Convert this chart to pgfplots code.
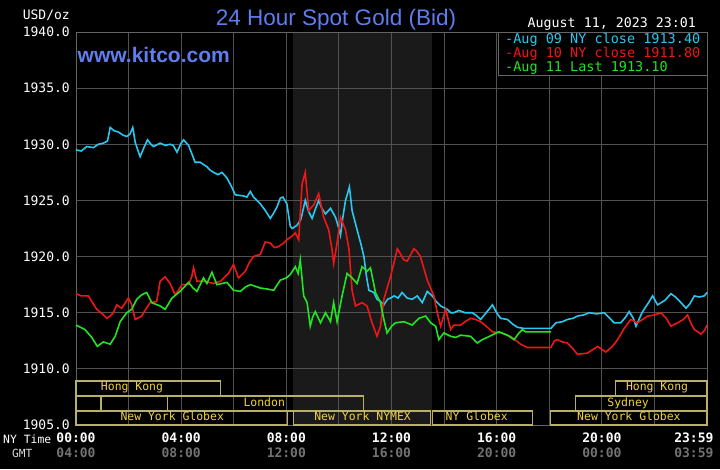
\documentclass[border=0pt]{standalone}
\usepackage{fontspec}
\setmainfont{Liberation Sans}
\newfontfamily\mono{DejaVu Sans Mono}
\usepackage{pgfplots}
\usepackage{pgfplotstable}
\pgfplotsset{compat=1.18}
\definecolor{cyanc}{RGB}{40,200,240}
\definecolor{redc}{RGB}{238,22,22}
\definecolor{greenc}{RGB}{34,228,34}
\definecolor{titlec}{RGB}{95,125,238}
\definecolor{gridc}{RGB}{82,82,82}
\definecolor{framec}{RGB}{100,100,100}
\definecolor{nymexc}{RGB}{26,26,26}
\definecolor{gmtc}{RGB}{115,115,115}
\definecolor{sessline}{RGB}{185,175,105}
\definecolor{sesstext}{RGB}{240,210,60}

\pgfdeclarelayer{pagebg}
\pgfplotsset{
  layers/withbg/.define layer set={pagebg,axis background,axis grid,axis ticks,axis lines,axis tick labels,pre main,main,axis descriptions,axis foreground}{},
}

\pgfplotstableread{
h p
0 1929.5
0.2 1929.4
0.41 1929.8
0.66 1929.7
0.85 1930.0
1.04 1930.1
1.2 1930.3
1.3 1931.5
1.45 1931.2
1.61 1931.1
1.8 1930.8
1.93 1930.7
2.05 1930.9
2.16 1931.5
2.25 1930.2
2.35 1929.5
2.44 1928.9
2.6 1929.8
2.72 1930.4
2.85 1930.0
2.95 1929.8
3.2 1930.1
3.4 1929.9
3.58 1930.0
3.7 1929.9
3.84 1929.3
4.0 1930.1
4.09 1930.4
4.28 1929.9
4.4 1929.2
4.53 1928.4
4.72 1928.4
4.98 1928.0
5.1 1927.7
5.23 1927.5
5.4 1927.3
5.55 1927.5
5.74 1927.0
5.9 1926.3
6.06 1925.5
6.37 1925.4
6.5 1925.3
6.63 1925.8
6.75 1925.3
7.01 1924.7
7.2 1924.1
7.39 1923.4
7.5 1923.8
7.64 1924.4
7.77 1925.2
7.87 1925.3
8.02 1924.7
8.15 1922.7
8.22 1922.5
8.41 1922.8
8.55 1923.3
8.72 1925.0
8.85 1924.0
8.98 1923.4
9.1 1924.2
9.23 1925.0
9.35 1924.3
9.49 1923.8
9.68 1924.3
9.87 1923.5
10.0 1922.5
10.06 1921.9
10.15 1923.5
10.25 1925.0
10.4 1926.2
10.5 1924.1
10.69 1922.4
10.85 1921.0
10.95 1920.0
11.05 1918.2
11.14 1917.0
11.33 1916.8
11.45 1916.2
11.58 1916.0
11.71 1915.7
11.85 1916.2
11.96 1916.3
12.1 1916.5
12.25 1916.3
12.4 1916.8
12.6 1916.3
12.79 1916.2
12.98 1916.5
13.17 1915.9
13.36 1916.9
13.55 1916.5
13.7 1916.0
13.87 1915.6
14.12 1915.3
14.25 1915.0
14.37 1915.0
14.56 1915.2
14.8 1915.0
15.07 1915.0
15.2 1914.8
15.39 1914.4
15.6 1915.0
15.84 1915.7
16.0 1915.0
16.15 1914.5
16.41 1914.4
16.6 1914.0
16.79 1913.7
17.04 1913.6
18.06 1913.6
18.25 1914.1
18.5 1914.2
18.69 1914.4
18.9 1914.5
19.07 1914.7
19.3 1914.8
19.52 1915.0
19.8 1914.9
20.09 1915.0
20.3 1914.5
20.47 1914.1
20.72 1914.1
20.9 1914.6
21.04 1915.1
21.2 1914.5
21.3 1913.8
21.45 1914.6
21.55 1915.1
21.75 1915.8
21.93 1916.5
22.12 1915.7
22.4 1916.1
22.63 1916.7
22.8 1916.4
23.01 1915.9
23.2 1915.4
23.35 1915.8
23.52 1916.5
23.7 1916.4
23.9 1916.5
24.0 1916.8
}\augnine

\pgfplotstableread{
h p
0 1916.7
0.2 1916.5
0.47 1916.5
0.6 1916.0
0.79 1915.3
1.0 1914.9
1.17 1914.5
1.3 1914.7
1.42 1915.0
1.55 1915.7
1.74 1915.4
1.99 1916.3
2.12 1915.7
2.25 1914.4
2.5 1914.7
2.65 1915.3
2.82 1915.9
3.07 1916.0
3.2 1917.8
3.39 1918.2
3.58 1917.6
3.77 1916.6
3.9 1917.0
4.03 1917.5
4.28 1917.5
4.4 1918.2
4.47 1919.0
4.6 1917.8
4.85 1917.8
5.05 1917.7
5.23 1917.6
5.49 1917.8
5.8 1918.5
5.99 1919.3
6.18 1918.1
6.44 1918.7
6.6 1919.5
6.75 1920.0
7.01 1920.2
7.2 1921.3
7.39 1921.2
7.55 1920.8
7.71 1920.9
7.9 1921.2
8.02 1921.5
8.2 1921.8
8.34 1922.1
8.47 1921.5
8.6 1926.5
8.72 1927.5
8.85 1924.1
9.04 1924.6
9.23 1925.6
9.42 1923.5
9.61 1922.4
9.74 1920.6
9.8 1919.4
9.93 1921.2
10.06 1923.5
10.25 1922.4
10.38 1920.7
10.5 1917.0
10.63 1915.6
10.88 1915.9
11.07 1915.6
11.26 1914.1
11.45 1912.9
11.58 1913.8
11.71 1916.2
11.96 1918.2
12.1 1919.5
12.22 1920.7
12.35 1920.2
12.47 1919.7
12.6 1919.6
12.85 1920.7
12.95 1920.5
13.1 1920.0
13.36 1917.9
13.61 1916.5
13.74 1915.0
13.87 1913.8
14.06 1915.3
14.25 1913.5
14.37 1913.9
14.63 1913.9
14.8 1914.2
15.01 1914.5
15.2 1914.4
15.39 1914.2
15.6 1913.8
15.84 1913.3
16.15 1913.2
16.53 1912.9
16.75 1912.5
16.91 1912.2
17.17 1911.9
18.06 1911.9
18.2 1912.5
18.31 1912.6
18.5 1912.4
18.69 1912.3
18.9 1911.8
19.07 1911.3
19.45 1911.4
19.84 1912.0
20.15 1911.5
20.4 1912.0
20.6 1912.6
20.85 1913.6
21.1 1914.4
21.36 1914.1
21.55 1914.4
21.74 1914.7
22.0 1914.8
22.25 1915.0
22.45 1914.5
22.63 1913.8
22.88 1914.1
23.1 1914.4
23.26 1914.8
23.4 1914.0
23.52 1913.5
23.77 1913.1
23.9 1913.4
24.0 1913.9
}\augten

\pgfplotstableread{
h p
0 1913.9
0.34 1913.5
0.6 1912.8
0.81 1912.0
1.04 1912.4
1.3 1912.2
1.49 1912.9
1.68 1914.2
1.93 1915.0
2.12 1915.3
2.31 1916.2
2.5 1916.6
2.69 1916.8
2.88 1915.9
3.2 1915.6
3.39 1915.3
3.65 1916.3
3.96 1916.9
4.28 1917.7
4.45 1917.2
4.6 1916.9
4.85 1918.1
4.98 1917.6
5.17 1918.6
5.36 1917.5
5.55 1917.6
5.74 1917.7
5.99 1917.0
6.25 1916.9
6.45 1917.3
6.63 1917.5
7.01 1917.2
7.3 1917.1
7.52 1917.0
7.77 1917.9
8.0 1918.1
8.15 1918.4
8.34 1919.1
8.45 1918.5
8.53 1919.7
8.66 1916.5
8.79 1915.9
8.91 1913.8
9.0 1914.6
9.1 1915.1
9.3 1914.1
9.49 1915.0
9.68 1914.2
9.8 1915.9
9.93 1914.2
10.12 1916.5
10.31 1918.5
10.5 1918.1
10.69 1917.6
10.88 1919.1
11.07 1918.7
11.2 1919.0
11.39 1916.8
11.58 1915.9
11.7 1914.5
11.83 1913.2
12.0 1913.8
12.15 1914.1
12.47 1914.2
12.79 1913.9
13.04 1914.5
13.3 1914.7
13.49 1914.1
13.68 1913.8
13.8 1912.6
13.99 1913.2
14.25 1912.9
14.44 1912.8
14.63 1913.0
15.01 1912.9
15.26 1912.3
15.45 1912.6
15.64 1912.8
15.9 1913.1
16.09 1913.3
16.41 1913.0
16.66 1912.6
16.85 1913.2
16.98 1913.5
17.1 1913.3
18.06 1913.3
}\augeleven

\begin{document}
\begin{tikzpicture}
\begin{axis}[
  at={(76pt,-425pt)}, anchor=south west,
  scale only axis, width=631pt, height=393pt,
  xmin=0, xmax=24, ymin=1905, ymax=1940,
  set layers=withbg,
  axis line style={draw=framec, line width=1pt},
  xtick={0,4,8,12,16,20,23.5},
  xticklabels={{00:00\\\textcolor{gmtc}{04:00}},{04:00\\\textcolor{gmtc}{08:00}},{08:00\\\textcolor{gmtc}{12:00}},{12:00\\\textcolor{gmtc}{16:00}},{16:00\\\textcolor{gmtc}{20:00}},{20:00\\\textcolor{gmtc}{00:00}},{23:59\\\textcolor{gmtc}{03:59}}},
  minor xtick={0,2,...,24},
  xminorgrids=true, ymajorgrids=true,
  ytick={1905,1910,1915,1920,1925,1930,1935,1940},
  yticklabels={1905.0,1910.0,1915.0,1920.0,1925.0,1930.0,1935.0,1940.0},
  major tick length=0pt, minor tick length=0pt,
  major grid style={draw=gridc, line width=1pt},
  minor grid style={draw=gridc, line width=1pt},
  yticklabel style={font=\mono\fontsize{13}{13}\selectfont, text=white, inner sep=0pt, xshift=-6pt},
  xticklabel style={font=\mono\bfseries\fontsize{13}{14.5}\selectfont, text=white, align=center, inner sep=0pt, yshift=-8pt},
  clip=false,
]
\begin{pgfonlayer}{axis background}
\fill[nymexc] (axis cs:8.27,1905) rectangle (axis cs:13.53,1940);
\end{pgfonlayer}

\addplot[cyanc, line width=1.6pt, mark=none] table[x=h,y=p] {\augnine};
\addplot[redc, line width=1.6pt, mark=none] table[x=h,y=p] {\augten};
\addplot[greenc, line width=1.6pt, mark=none] table[x=h,y=p] {\augeleven};

% trading sessions
\begin{scope}[sessline, line width=1.2pt]
\draw (axis cs:0,1908.92) rectangle (axis cs:5.49,1907.58);
\draw (axis cs:20.53,1908.92) rectangle (axis cs:24,1907.58);
\draw (axis cs:0,1907.58) rectangle (axis cs:0.95,1906.25);
\draw (axis cs:0.95,1907.58) rectangle (axis cs:3.47,1906.25);
\draw (axis cs:3.47,1907.58) rectangle (axis cs:10.93,1906.25);
\draw (axis cs:19.0,1907.58) rectangle (axis cs:24,1906.25);
\draw (axis cs:0,1906.25) rectangle (axis cs:8.04,1905);
\draw (axis cs:8.27,1906.25) rectangle (axis cs:13.49,1905);
\draw (axis cs:13.56,1906.25) rectangle (axis cs:17.37,1905);
\draw (axis cs:18.06,1906.25) rectangle (axis cs:24,1905);
\end{scope}
\begin{scope}[every node/.style={text=sesstext, inner sep=0pt, anchor=base, font=\mono\fontsize{11.45}{12}\selectfont}]
\node at (axis cs:2.13,1908.03) {Hong Kong};
\node at (axis cs:22.1,1908.03) {Hong Kong};
\node at (axis cs:7.16,1906.65) {London};
\node at (axis cs:21.0,1906.65) {Sydney};
\node at (axis cs:3.66,1905.36) {New York Globex};
\node at (axis cs:10.9,1905.36) {New York NYMEX};
\node at (axis cs:15.24,1905.36) {NY Globex};
\node at (axis cs:21.03,1905.36) {New York Globex};
\end{scope}
\end{axis}

\begin{pgfonlayer}{pagebg}
\fill[black] (0pt,0pt) rectangle (720pt,-469pt);
\end{pgfonlayer}

% titles and labels
\node[anchor=base, inner sep=0pt, text=titlec, font=\fontsize{22.5}{22.5}\selectfont] at (336pt,-25pt) {24 Hour Spot Gold (Bid)};
\node[anchor=base west, inner sep=0pt, text=titlec, font=\bfseries\fontsize{21}{21}\selectfont] at (77.5pt,-62.7pt) {www.kitco.com};
\node[anchor=base east, inner sep=0pt, text=white, font=\mono\fontsize{13}{13}\selectfont] at (70pt,-19.3pt) {USD/oz};
\node[anchor=base west, inner sep=0pt, text=white, font=\mono\fontsize{13.3}{13.3}\selectfont] at (527.5pt,-27.3pt) {August 11, 2023 23:01};
\node[anchor=base west, inner sep=0pt, text=white, font=\mono\fontsize{11.4}{11.4}\selectfont] at (3pt,-443.3pt) {NY Time};
\node[anchor=base west, inner sep=0pt, text=white!85!black, font=\mono\fontsize{11.2}{11.2}\selectfont] at (12pt,-457.3pt) {GMT};

% legend
\filldraw[fill=black, draw=framec, line width=1pt] (498pt,-32pt) rectangle (707pt,-75pt);
\begin{scope}[every node/.style={anchor=base west, inner sep=0pt, font=\mono\fontsize{13.5}{13.5}\selectfont}]
\node[text=cyanc] at (505pt,-43.3pt) {-Aug 09 NY close 1913.40};
\node[text=redc] at (505pt,-57.3pt) {-Aug 10 NY close 1911.80};
\node[text=greenc] at (505pt,-71.5pt) {-Aug 11 Last 1913.10};
\end{scope}
\end{tikzpicture}
\end{document}
